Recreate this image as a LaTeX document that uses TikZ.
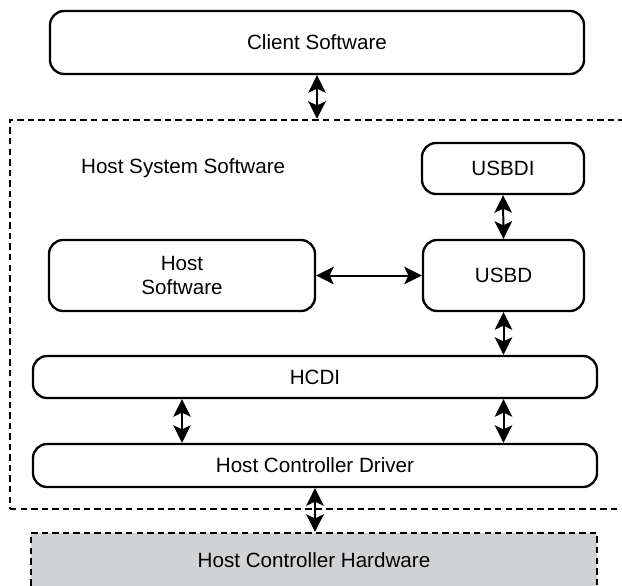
\documentclass[tikz,border=0pt]{standalone}
\usepackage{fontspec}
\setmainfont{Liberation Sans}
\usetikzlibrary{arrows.meta}
\definecolor{hwgray}{RGB}{209,210,212}

\begin{document}
\begin{tikzpicture}[x=0.03cm, y=-0.03cm,
  font=\fontsize{17.6pt}{21.3pt}\selectfont,
  blk/.style={draw, line width=2pt, rounded corners=12pt, inner sep=0pt, align=center},
  dashblk/.style={draw, line width=1.9pt, dash pattern=on 5.5pt off 3.5pt, inner sep=0pt},
  dbl/.style={{Stealth[length=15pt, width=15pt, inset=3.5pt]}-{Stealth[length=15pt, width=15pt, inset=3.5pt]}, line width=1.7pt}]
\useasboundingbox (0,0) rectangle (622,585);

\node[dashblk, minimum width=19.2cm, minimum height=11.67cm] (hostsys) at (330,314.5) {};
\node[anchor=west] (hostsyslabel) at (77,168) {Host System Software};

\node[blk, minimum width=16.02cm, minimum height=1.89cm] (client) at (317,42.5) {Client Software};
\node[blk, minimum width=4.86cm, minimum height=1.53cm] (usbdi) at (503,168.5) {USBDI};
\node[blk, minimum width=4.83cm, minimum height=2.13cm] (usbd) at (503.5,275.5) {USBD};
\node[blk, minimum width=7.98cm, minimum height=2.13cm] (hostsw) at (182,275.5) {Host\\Software};
\node[blk, minimum width=16.92cm, minimum height=1.26cm] (hcdi) at (315,377) {HCDI};
\node[blk, minimum width=16.92cm, minimum height=1.29cm] (hcd) at (315,465.5) {Host Controller Driver};
\node[dashblk, fill=hwgray, minimum width=16.98cm, minimum height=1.98cm] (hw) at (314,566) {};
\node (hwlabel) at (314,560) {Host Controller Hardware};

\draw[dbl] (client.south) -- (client.south |- hostsys.north);
\draw[dbl] (usbdi.south) -- (usbd.north);
\draw[dbl] (hostsw.east) -- (usbd.west);
\draw[dbl] (usbd.south) -- (usbd.south |- hcdi.north);
\draw[dbl] (hostsw |- hcdi.south) -- (hostsw |- hcd.north);
\draw[dbl] (usbd |- hcdi.south) -- (usbd |- hcd.north);
\draw[dbl] (hcd.south) -- (hcd.south |- hw.north);
\end{tikzpicture}
\end{document}
